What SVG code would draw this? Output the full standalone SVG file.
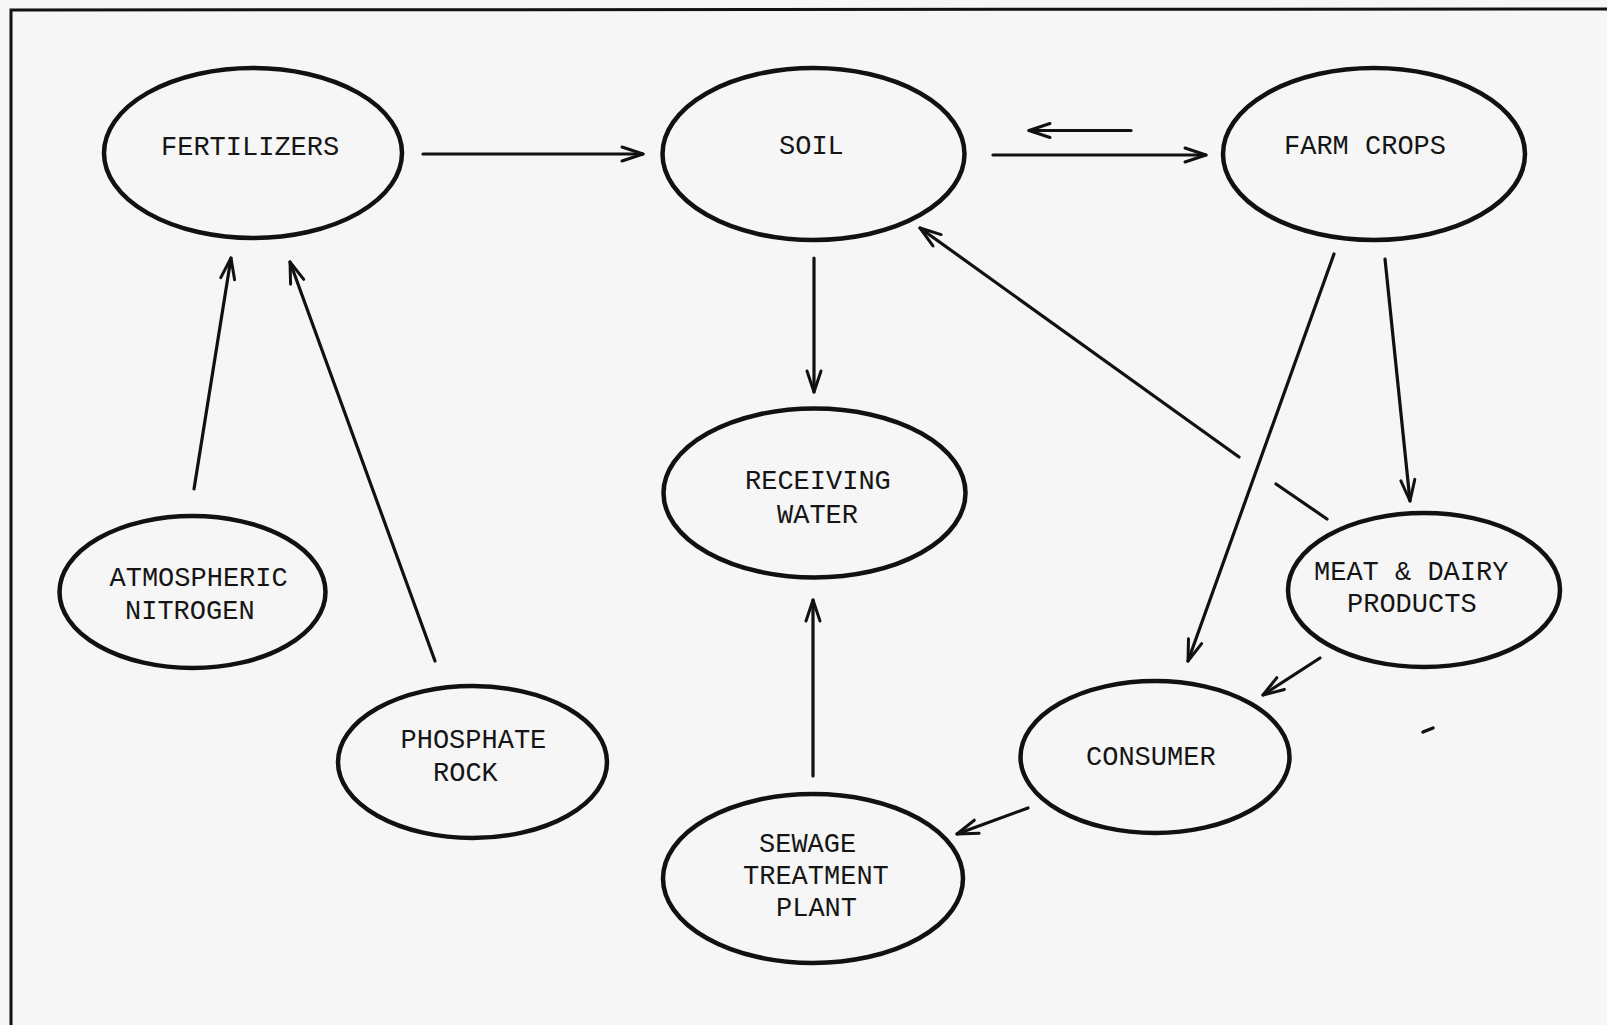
<svg xmlns="http://www.w3.org/2000/svg" width="1607" height="1025" viewBox="0 0 1607 1025">
<style>
.bg{fill:#f6f6f6}
.frame{fill:none;stroke:#111;stroke-width:3}
.node ellipse{fill:none;stroke:#111;stroke-width:4.5}
.node text{font-family:"Liberation Mono","DejaVu Sans Mono",monospace;font-size:27px;fill:#151515}
.edge{fill:none;stroke:#111;stroke-width:3.2;stroke-linecap:round}
.edge.head{marker-end:url(#ah)}
</style>
<defs>
<marker id="ah" viewBox="-24 -10 28 20" refX="0" refY="0" markerWidth="28" markerHeight="20" orient="auto" markerUnits="userSpaceOnUse">
<path d="M-21,-7 L0,0 L-21,7" fill="none" stroke="#111" stroke-width="3" stroke-linejoin="round" stroke-linecap="round"/>
</marker>
</defs>
<rect class="bg" x="0" y="0" width="1607" height="1025"/>
<path class="frame" d="M11,1025 V10 L1607,9"/>

<g id="connectors">
<line class="edge head" x1="423" y1="154" x2="643" y2="154"/>
<line class="edge head" x1="1131" y1="130.5" x2="1029" y2="130.5"/>
<line class="edge head" x1="993" y1="155" x2="1206" y2="155"/>
<line class="edge head" x1="814" y1="258" x2="814" y2="392"/>
<line class="edge head" x1="813" y1="776" x2="813" y2="600"/>
<line class="edge head" x1="194" y1="489" x2="231" y2="258"/>
<line class="edge head" x1="435" y1="661" x2="290" y2="262"/>
<line class="edge" x1="1327" y1="519" x2="1276" y2="484"/>
<line class="edge head" x1="1239" y1="457" x2="920" y2="228"/>
<line class="edge head" x1="1334" y1="254" x2="1188" y2="661"/>
<line class="edge head" x1="1385" y1="259" x2="1410" y2="501"/>
<line class="edge head" x1="1320" y1="658" x2="1263" y2="695"/>
<line class="edge head" x1="1028" y1="808" x2="957" y2="834"/>
</g>

<g id="fertilizers" class="node">
<ellipse cx="253" cy="153" rx="149" ry="85"/>
<text x="161" y="155">FERTILIZERS</text>
</g>
<g id="soil" class="node">
<ellipse cx="813.5" cy="154" rx="151" ry="86"/>
<text x="779" y="154">SOIL</text>
</g>
<g id="farm-crops" class="node">
<ellipse cx="1374" cy="154" rx="151" ry="86"/>
<text x="1284" y="154">FARM CROPS</text>
</g>
<g id="receiving-water" class="node">
<ellipse cx="814.5" cy="493" rx="151" ry="84.5"/>
<text x="745" y="489">RECEIVING</text>
<text x="777" y="523">WATER</text>
</g>
<g id="atmospheric-nitrogen" class="node">
<ellipse cx="192.5" cy="592" rx="133" ry="76"/>
<text x="109.5" y="586">ATMOSPHERIC</text>
<text x="125" y="619">NITROGEN</text>
</g>
<g id="phosphate-rock" class="node">
<ellipse cx="472.5" cy="762" rx="134.5" ry="76"/>
<text x="400.5" y="748">PHOSPHATE</text>
<text x="433" y="781">ROCK</text>
</g>
<g id="meat-dairy" class="node">
<ellipse cx="1424" cy="590" rx="136" ry="77"/>
<text x="1314" y="580">MEAT &amp; DAIRY</text>
<text x="1347" y="612">PRODUCTS</text>
</g>
<g id="consumer" class="node">
<ellipse cx="1155" cy="757" rx="134.5" ry="76"/>
<text x="1086" y="765">CONSUMER</text>
</g>
<g id="sewage-treatment-plant" class="node">
<ellipse cx="813" cy="878.5" rx="150" ry="84.5"/>
<text x="759" y="851.5">SEWAGE</text>
<text x="743" y="884">TREATMENT</text>
<text x="776" y="916">PLANT</text>
</g>
<path d="M1423,732 L1433,728" stroke="#111" stroke-width="3.5" stroke-linecap="round"/>
</svg>
